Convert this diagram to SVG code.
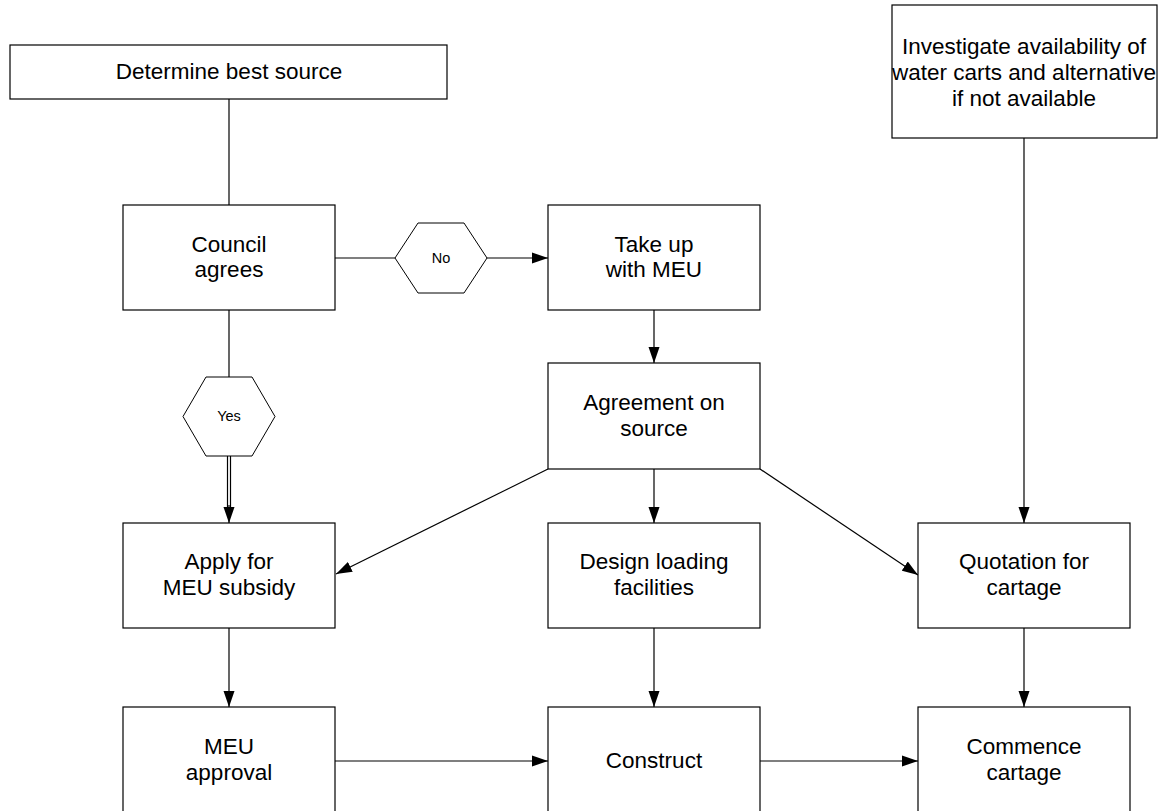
<svg xmlns="http://www.w3.org/2000/svg" width="1162" height="811" viewBox="0 0 1162 811">
<style>
.box{fill:#fff;stroke:#000;stroke-width:1.2}
.hex{fill:#fff;stroke:#000;stroke-width:1}
.t{font-family:"Liberation Sans",Arial,sans-serif;font-size:22.5px;fill:#000;text-anchor:middle}
.s{font-family:"Liberation Sans",Arial,sans-serif;font-size:14.5px;fill:#000;text-anchor:middle}
.c{stroke:#000;stroke-width:1.2;fill:none}
</style>
<defs>
<marker id="arr" markerWidth="16" markerHeight="12" refX="16" refY="6" orient="auto" markerUnits="userSpaceOnUse">
<path d="M0,0.5 L16,6 L0,11.5 Z" fill="#000"/>
</marker>
</defs>
<rect width="1162" height="811" fill="#fff"/>
<g id="connectors">
<line class="c" x1="229" y1="99" x2="229" y2="205"/>
<line class="c" x1="229" y1="310" x2="229" y2="377"/>
<line class="c" x1="335" y1="258" x2="395" y2="258"/>
<line class="c" x1="487" y1="258" x2="548" y2="258" marker-end="url(#arr)"/>
<line class="c" x1="227.5" y1="456" x2="227.5" y2="510"/>
<line class="c" x1="230.5" y1="456" x2="230.5" y2="510"/>
<line class="c" x1="229" y1="505" x2="229" y2="523" marker-end="url(#arr)"/>
<line class="c" x1="654" y1="310" x2="654" y2="363" marker-end="url(#arr)"/>
<line class="c" x1="654" y1="469" x2="654" y2="523" marker-end="url(#arr)"/>
<line class="c" x1="548" y1="469" x2="336" y2="574" marker-end="url(#arr)"/>
<line class="c" x1="760" y1="469" x2="918" y2="575" marker-end="url(#arr)"/>
<line class="c" x1="1024" y1="138" x2="1024" y2="523" marker-end="url(#arr)"/>
<line class="c" x1="229" y1="628" x2="229" y2="707" marker-end="url(#arr)"/>
<line class="c" x1="654" y1="628" x2="654" y2="707" marker-end="url(#arr)"/>
<line class="c" x1="1024" y1="628" x2="1024" y2="707" marker-end="url(#arr)"/>
<line class="c" x1="335" y1="761" x2="548" y2="761" marker-end="url(#arr)"/>
<line class="c" x1="760" y1="761" x2="918" y2="761" marker-end="url(#arr)"/>
</g>
<g id="n-determine">
<rect class="box" x="10" y="45" width="437" height="54"/>
<text class="t" x="229" y="79">Determine best source</text>
</g>
<g id="n-investigate">
<rect class="box" x="892" y="5" width="265" height="133"/>
<text class="t" x="1024" y="54">Investigate availability of</text>
<text class="t" x="1024" y="80">water carts and alternative</text>
<text class="t" x="1024" y="106">if not available</text>
</g>
<g id="n-council">
<rect class="box" x="123" y="205" width="212" height="105"/>
<text class="t" x="229" y="252">Council</text>
<text class="t" x="229" y="277">agrees</text>
</g>
<g id="n-no">
<polygon class="hex" points="395,258 418,223 464,223 487,258 464,293 418,293"/>
<text class="s" x="441" y="263">No</text>
</g>
<g id="n-takeup">
<rect class="box" x="548" y="205" width="212" height="105"/>
<text class="t" x="654" y="252">Take up</text>
<text class="t" x="654" y="277">with MEU</text>
</g>
<g id="n-yes">
<polygon class="hex" points="183,416.5 206,377 252,377 275,416.5 252,456 206,456"/>
<text class="s" x="229" y="421">Yes</text>
</g>
<g id="n-agreement">
<rect class="box" x="548" y="363" width="212" height="106"/>
<text class="t" x="654" y="410">Agreement on</text>
<text class="t" x="654" y="436">source</text>
</g>
<g id="n-apply">
<rect class="box" x="123" y="523" width="212" height="105"/>
<text class="t" x="229" y="569">Apply for</text>
<text class="t" x="229" y="595">MEU subsidy</text>
</g>
<g id="n-design">
<rect class="box" x="548" y="523" width="212" height="105"/>
<text class="t" x="654" y="569">Design loading</text>
<text class="t" x="654" y="595">facilities</text>
</g>
<g id="n-quotation">
<rect class="box" x="918" y="523" width="212" height="105"/>
<text class="t" x="1024" y="569">Quotation for</text>
<text class="t" x="1024" y="595">cartage</text>
</g>
<g id="n-meu">
<rect class="box" x="123" y="707" width="212" height="106"/>
<text class="t" x="229" y="754">MEU</text>
<text class="t" x="229" y="780">approval</text>
</g>
<g id="n-construct">
<rect class="box" x="548" y="707" width="212" height="106"/>
<text class="t" x="654" y="768">Construct</text>
</g>
<g id="n-commence">
<rect class="box" x="918" y="707" width="212" height="106"/>
<text class="t" x="1024" y="754">Commence</text>
<text class="t" x="1024" y="780">cartage</text>
</g>
</svg>
